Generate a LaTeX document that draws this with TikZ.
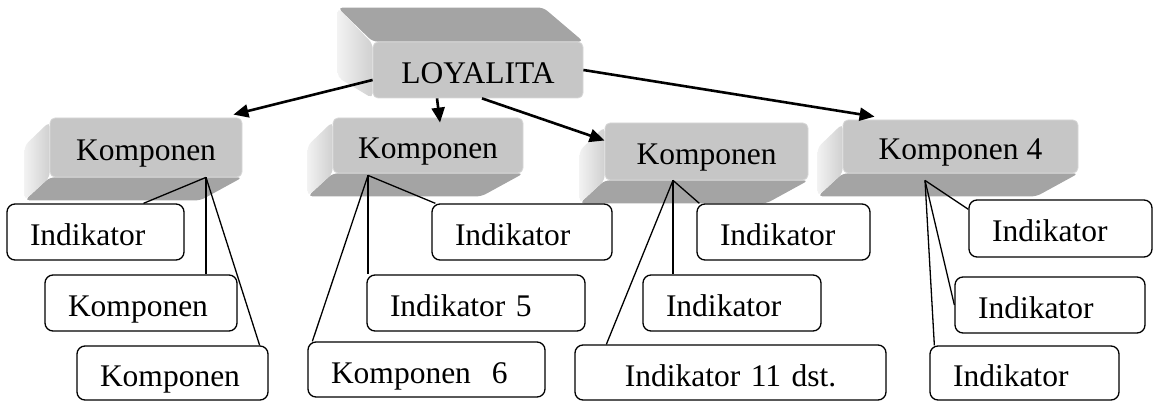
\documentclass[tikz,border=0pt]{standalone}
\usepackage{fontspec}
\setmainfont{Liberation Serif}
\usetikzlibrary{arrows.meta,backgrounds,calc}

\definecolor{facegray}{HTML}{C6C6C6}
\definecolor{faceedge}{HTML}{D8D8D8}
\definecolor{depthgray}{HTML}{A4A4A4}
\definecolor{sidelight}{HTML}{F2F2F2}
\definecolor{sidedark}{HTML}{D0D0D0}

\tikzset{
  txt/.style={font=\fontsize{31.5}{36}\selectfont, text height=27pt, text depth=0pt},
  face/.style={txt, fill=facegray, draw=faceedge, line width=0.8pt,
    rounded corners=5pt, inner sep=0pt},
  depth/.style={fill=depthgray, rounded corners=5pt},
  side/.style={left color=sidelight, right color=sidedark, rounded corners=5pt},
  ibox/.style={txt, draw=black, fill=white, line width=1.3pt, rounded corners=8pt,
    inner xsep=23pt, inner ysep=0pt, align=left},
  link/.style={line width=1.3pt},
  arrowline/.style={line width=2.6pt, -{Triangle[length=15pt,width=13pt]}},
}

\begin{document}
\begin{tikzpicture}[x=1pt,y=-1pt]
\useasboundingbox (0,0) rectangle (1154,403);

% raised front faces of the boxes
\node[face, minimum width=210pt, minimum height=56pt] (loy) at (478,70) {LOYALITA};
\node[face, minimum width=192pt, minimum height=59pt] (c1) at (146,147.5) {Komponen};
\node[face, minimum width=190pt, minimum height=55pt] (c2) at (428,145.5) {Komponen};
\node[face, minimum width=203pt, minimum height=57pt] (c3) at (706.5,151.5) {Komponen};
\node[face, minimum width=235pt, minimum height=53pt] (c4) at (960.5,146.5) {Komponen 4};

% extruded sides behind the front faces
\begin{scope}[on background layer]
  % top box: extrusion towards the upper left
  \fill[depth] (loy.north west) -- (loy.north east)
    -- ($(loy.north east)+(-40,-34)$) -- ($(loy.north west)+(-35,-34)$) -- cycle;
  \shade[side] ([yshift=-2pt]loy.north west) -- ($(loy.north west)+(-35,-34)$)
    -- ($(loy.south west)+(-35,-21)$) -- (loy.south west) -- cycle;
  % component boxes: extrusion towards the lower left
  \foreach \c in {c1,c2,c3,c4}{
    \fill[depth] (\c.south west) -- (\c.south east)
      -- ($(\c.south east)+(-42,23)$) -- ($(\c.south west)+(-25,23)$) -- cycle;
    \shade[side] ([yshift=-4pt]\c.north west) -- ($(\c.north west)+(-25,28)$)
      -- ($(\c.south west)+(-25,23)$) -- (\c.south west) -- cycle;
  }
\end{scope}

% indicator boxes
\node[ibox, text width=131pt, minimum height=56pt] (A) at (95.5,232) {Indikator};
\node[ibox, text width=146pt, minimum height=56pt] (B) at (141,303) {Komponen};
\node[ibox, text width=145pt, minimum height=54pt] (C) at (172.5,373) {Komponen};

\node[ibox, text width=134pt, minimum height=56pt] (D) at (522,232) {Indikator};
\node[ibox, text width=172pt, minimum height=56pt] (E) at (476,303) {Indikator 5};
\node[ibox, text width=191pt, minimum height=55pt] (F) at (426.5,369.5) {Komponen~~6};

\node[ibox, text width=127pt, minimum height=56pt] (G) at (783.5,232) {Indikator};
\node[ibox, text width=132pt, minimum height=56pt] (H) at (732,303) {Indikator};
\node[ibox, align=center, text width=265pt, minimum height=55pt] (I) at (730.5,372.5) {Indikator 11 dst.};

\node[ibox, text width=137pt, minimum height=57pt] (J) at (1060.5,228.5) {Indikator};
\node[ibox, text width=144pt, minimum height=56pt] (K) at (1050,305) {Indikator};
\node[ibox, text width=143pt, minimum height=54pt] (L) at (1024.5,373) {Indikator};

% branching points under the component faces
\coordinate (c1o) at ([xshift=60pt]c1.south);
\coordinate (c2o) at ([xshift=-60pt,yshift=-2pt]c2.south);
\coordinate (c3o) at ([xshift=-33.5pt]c3.south);
\coordinate (c4o) at ([xshift=-35.5pt,yshift=-7pt]c4.south);

% links from components to their indicators
\draw[link] (c1o) -- ([xshift=48pt]A.north);
\draw[link] (c1o) -- (c1o |- B.north);
\draw[link] (c1o) -- ([xshift=-9pt]C.north east);

\draw[link] (c2o) -- ([xshift=4pt]D.north west);
\draw[link] (c2o) -- (c2o |- E.north);
\draw[link] (c2o) -- ([xshift=5pt]F.north west);

\draw[link] (c3o) -- ([xshift=3pt]G.north west);
\draw[link] (c3o) -- (c3o |- H.north);
\draw[link] (c3o) -- ([xshift=32pt]I.north west);

\draw[link] (c4o) -- ([yshift=-10pt]J.north west);
\draw[link] (c4o) -- (K.west);
\draw[link] (c4o) -- ([xshift=5pt]L.north west);

% arrows from the top box to the components
\draw[arrowline] ([yshift=-10pt]loy.west) -- ([xshift=-9pt,yshift=3pt]c1.north east);
\draw[arrowline] ([xshift=-41pt]loy.south) -- ([xshift=12pt,yshift=-5pt]c2.north);
\draw[arrowline] ([xshift=4pt]loy.south) -- ([yshift=11pt]c3.west);
\draw[arrowline] (loy.east) -- ([xshift=32pt,yshift=3pt]c4.north west);
\end{tikzpicture}
\end{document}
